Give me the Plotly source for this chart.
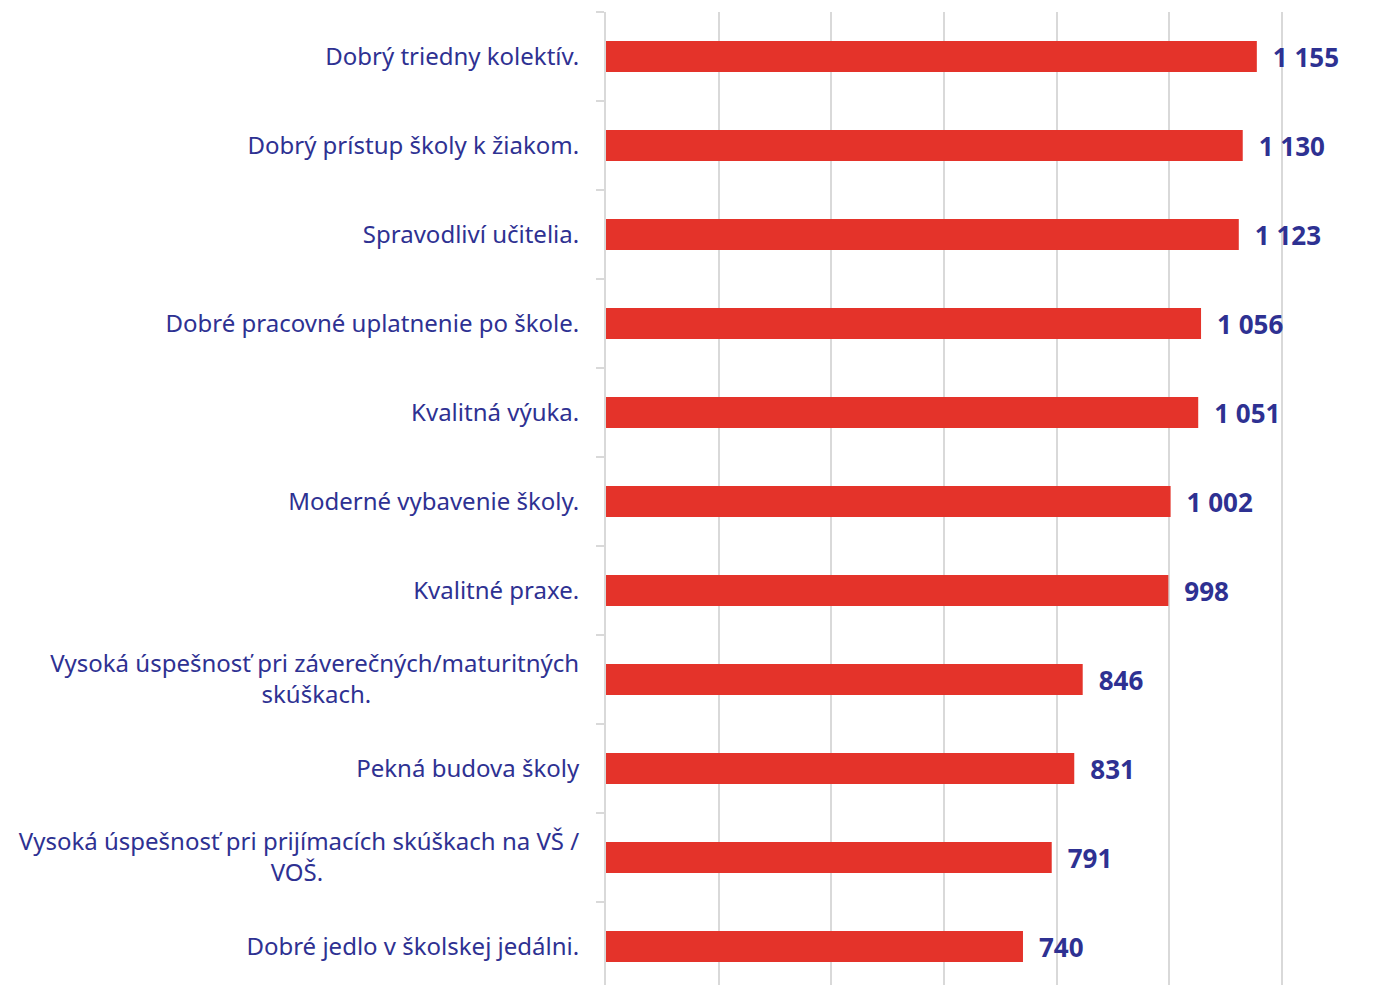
import plotly.graph_objects as go

EM = "\u2003"
EN = "\u2002"
TH = "\u2009"

categories = [
    "Dobrý triedny kolektív.",
    "Dobrý prístup školy k žiakom.",
    "Spravodliví učitelia.",
    "Dobré pracovné uplatnenie po škole.",
    "Kvalitná výuka.",
    "Moderné vybavenie školy.",
    "Kvalitné praxe.",
    "Vysoká úspešnosť pri záverečných/maturitných<br>skúškach." + EM * 8 + EN + TH,
    "Pekná budova školy",
    "Vysoká úspešnosť pri prijímacích skúškach na VŠ /<br>VOŠ." + EM * 10 + EN + TH,
    "Dobré jedlo v školskej jedálni.",
]
values = [1155, 1130, 1123, 1056, 1051, 1002, 998, 846, 831, 791, 740]
labels = ["1 155", "1 130", "1 123", "1 056", "1 051", "1 002", "998", "846", "831", "791", "740"]

NAVY = "#2E3192"
RED = "#E4332A"
FONT = "Noto Sans"

fig = go.Figure(go.Bar(
    x=values,
    y=categories,
    orientation="h",
    marker=dict(color=RED, line=dict(width=0)),
    width=0.35,
    text=[EN + s for s in labels],
    textposition="outside",
    constraintext="none",
    cliponaxis=False,
    textfont=dict(family=FONT, size=26, color=NAVY, weight="bold"),
))

fig.update_layout(
    width=1386, height=985,
    margin=dict(l=598, r=109, t=4, b=2),
    paper_bgcolor="white", plot_bgcolor="white",
    showlegend=False,
    font=dict(family=FONT, color=NAVY),
    xaxis=dict(
        range=[0, 1205], tickvals=[0, 200, 400, 600, 800, 1000, 1200], showticklabels=False,
        showgrid=True, gridcolor="#D9D9D9", gridwidth=2,
        zeroline=False, showline=False, fixedrange=True,
    ),
    yaxis=dict(
        type="category",
        range=[10.5, -0.5],
        tickson="boundaries",
        ticks="outside", ticklen=8, tickcolor="#D9D9D9", tickwidth=2,
        showline=True, linecolor="#D9D9D9", linewidth=2,
        showgrid=False,
        tickfont=dict(family=FONT, size=24, color=NAVY),
        ticklabelstandoff=20,
    ),
)

fig.write_html("out.html")
